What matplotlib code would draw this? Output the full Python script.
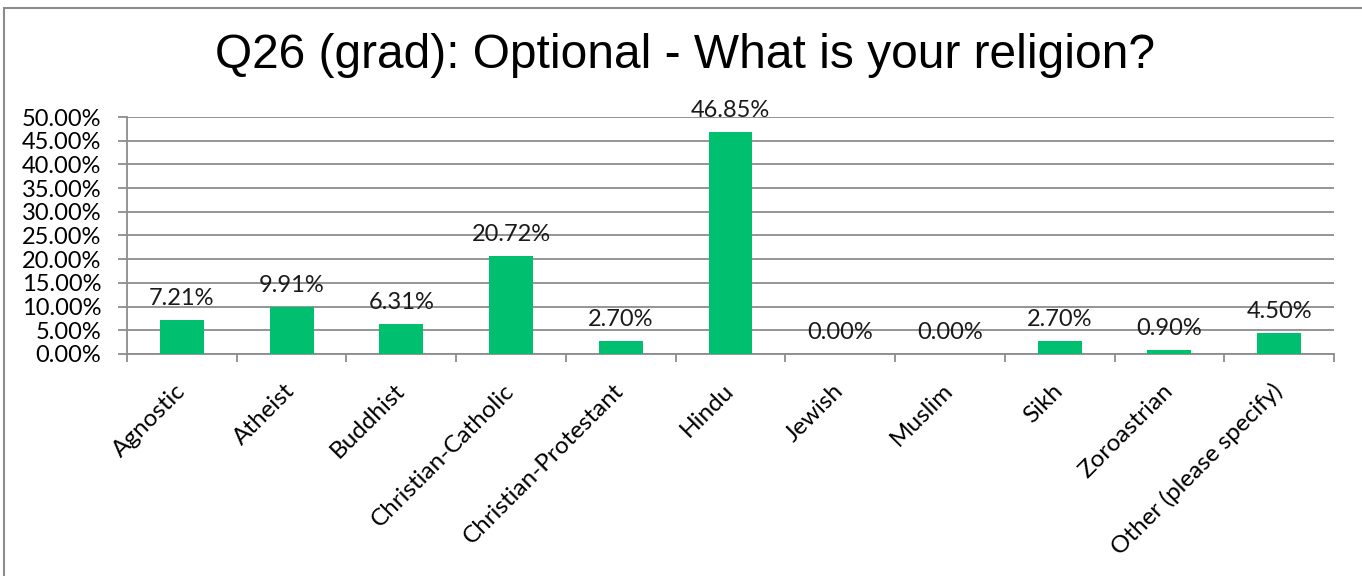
import numpy as np
import matplotlib.pyplot as plt
from matplotlib.patches import Rectangle
from matplotlib.ticker import FuncFormatter

# data
religions = ["Agnostic", "Atheist", "Buddhist", "Christian-Catholic",
             "Christian-Protestant", "Hindu", "Jewish", "Muslim", "Sikh",
             "Zoroastrian", "Other (please specify)"]
shares = [7.21, 9.91, 6.31, 20.72, 2.70, 46.85, 0.00, 0.00, 2.70, 0.90, 4.50]
y_ticks = np.arange(0, 55, 5)

green = "#00BF6F"
grid_gray = "#8C8C8C"
lbl_font = ["Lato", "DejaVu Sans"]
fs = 17

fig = plt.figure(figsize=(13.62, 5.76), dpi=100)
ax = fig.add_axes([127 / 1362, 1 - 354 / 576, (1334 - 127) / 1362, (354 - 117) / 576])

x = np.arange(len(religions))
ax.bar(x, shares, width=0.4, color=green, zorder=3)

# value labels above bars
for xi, v in zip(x, shares):
    ax.annotate(f"{v:.2f}%", (xi, v), xytext=(0, 8), textcoords="offset points",
                ha="center", va="bottom", fontsize=fs, family=lbl_font,
                color="#1a1a1a")

ax.set_xlim(-0.5, len(religions) - 0.5)
ax.set_ylim(0, 50)
ax.set_yticks(y_ticks)
ax.yaxis.set_major_formatter(FuncFormatter(lambda v, p: f"{v:.2f}%"))
ax.grid(axis="y", color=grid_gray, linewidth=1.3, zorder=0)

# x ticks at the category boundaries, labels at centres
ax.set_xticks(np.arange(len(religions) + 1) - 0.5)
ax.set_xticklabels([])
ax.set_xticks(x, minor=True)
ax.set_xticklabels(religions, minor=True, rotation=45, ha="right", va="center",
                   rotation_mode="anchor", fontsize=17.5, family=lbl_font)
ax.tick_params(axis="x", which="minor", length=0, pad=24)
ax.tick_params(axis="x", which="major", length=6, color=grid_gray, width=1.3)
ax.tick_params(axis="y", length=6.5, color=grid_gray, width=1.3, pad=12,
               labelsize=fs)
for t in ax.get_yticklabels():
    t.set_family(lbl_font)

for s in ["top", "right"]:
    ax.spines[s].set_visible(False)
ax.spines["left"].set_color(grid_gray)
ax.spines["bottom"].set_color(grid_gray)
ax.spines["left"].set_linewidth(1.3)
ax.spines["bottom"].set_linewidth(1.3)

fig.text(685 / 1362, 1 - 55 / 576, "Q26 (grad): Optional - What is your religion?",
         ha="center", va="center", fontsize=34.5, family="Liberation Sans")

# chart frame (left and top edges visible)
fig.patches.append(Rectangle((4 / 1362, -0.1), 1.2, 1 - 8 / 576 + 0.1,
                             transform=fig.transFigure, fill=False,
                             edgecolor="#8C8C8C", linewidth=1.5))

fig.savefig("out.png", dpi=100)
